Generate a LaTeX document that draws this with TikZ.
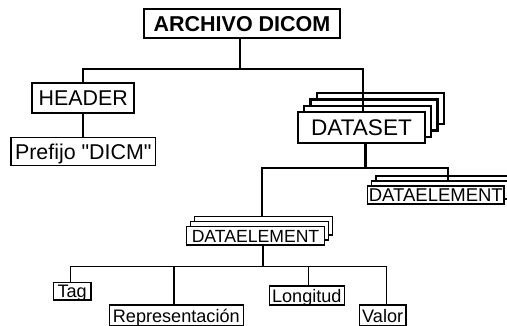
\documentclass[tikz,border=0pt]{standalone}
\usepackage{fontspec}
\setmainfont{Liberation Sans}
\begin{document}
\begin{tikzpicture}[x=1pt,y=-1pt,
  bx/.style={draw, fill=white, inner sep=0pt, anchor=center},
  thick2/.style={line width=2.3pt},
  thin2/.style={line width=1.4pt},
  fbig/.style={font=\fontsize{21.4}{22}\selectfont, text height=15.3pt, text depth=0pt},
  fsmall/.style={font=\fontsize{18.1}{19}\selectfont, text height=13pt, text depth=0pt},
  dsbox/.style={bx, thick2, minimum width=127pt, minimum height=31pt},
  derbox/.style={bx, thin2, minimum width=136.5pt, minimum height=18pt},
  delbox/.style={bx, thin2, minimum width=138pt, minimum height=18.3pt},
  leaf/.style={bx, thin2, fsmall}
]
\useasboundingbox (0,0) rectangle (507,325);

% top
\node[bx, thick2, minimum width=196pt, minimum height=29pt,
      font=\fontsize{21.5}{22}\selectfont\bfseries, text height=15.4pt, text depth=0pt]
      (archivo) at (242,23.5) {ARCHIVO DICOM};
\node[bx, thick2, fbig, minimum width=102pt, minimum height=29.4pt] (hdr) at (83.3,98) {HEADER};
\node[bx, thin2, fbig, minimum width=144.7pt, minimum height=28.4pt] (pre) at (83.3,151.5) {Prefijo \textquotedbl DICM\textquotedbl};

% DATASET stack
\node[dsbox] (ds3) at (380.4,108.6) {};
\node[dsbox] (ds2) at (374.1,114.9) {};
\node[dsbox] (ds1) at (367.8,121.2) {};
\node[dsbox, font=\fontsize{22.6}{23}\selectfont, text height=16.2pt, text depth=0pt] (ds) at (361.5,127.5) {DATASET};

% right DATAELEMENT stack
\node[derbox] (deR2) at (444.3,185) {};
\node[derbox] (deR1) at (439.8,190) {};
\node[derbox, font=\fontsize{18.5}{19}\selectfont, text height=13.2pt, text depth=0pt] (deR) at (435.8,195) {DATAELEMENT};

% lower DATAELEMENT stack
\node[delbox] (deL2) at (263.5,225.8) {};
\node[delbox] (deL1) at (259.5,230.8) {};
\node[delbox, font=\fontsize{17.6}{18}\selectfont, text height=12.6pt, text depth=0pt] (deL) at (255.5,235.8) {DATAELEMENT};

% leaves
\node[leaf, minimum width=37.7pt, minimum height=17.3pt] (tag) at (72.2,291.3) {Tag};
\node[leaf, minimum width=134pt, minimum height=21pt] (rep) at (176.3,315.5) {Representación};
\node[leaf, minimum width=75pt, minimum height=19pt] (lon) at (306.8,295.5) {Longitud};
\node[leaf, minimum width=46.7pt, minimum height=21pt] (val) at (382.7,315.5) {Valor};

% connectors
\coordinate (jA) at (240,69);
\coordinate (jB) at (363,69);
\draw[thick2] (jA |- archivo.south) -- (jA);
\draw[thick2] (hdr.north) |- (jB) -- (jB |- ds.north);
\draw[thick2] (hdr) -- (pre);

\coordinate (jC) at (365.5,168);
\coordinate (jD) at (262,168);
\coordinate (jE) at (448,168);
\draw[thick2] (jC |- ds.south) -- (jC);
\draw[thick2] (jD |- deL2.north) -- (jD) -- (jE) -- (jE |- deR1.north);

\coordinate (jF) at (263,266.7);
\coordinate (tT) at (70.7,266.7);
\coordinate (tR) at (174,266.7);
\coordinate (tL) at (308.3,266.7);
\coordinate (tV) at (386.7,266.7);
\draw[thin2] (jF |- deL.south) -- (jF);
\draw[thin2] (tT |- tag.north) -- (tT) -- (tV) -- (tV |- val.north);
\draw[thin2] (tR) -- (tR |- rep.north);
\draw[thin2] (tL) -- (tL |- lon.north);
\end{tikzpicture}
\end{document}
